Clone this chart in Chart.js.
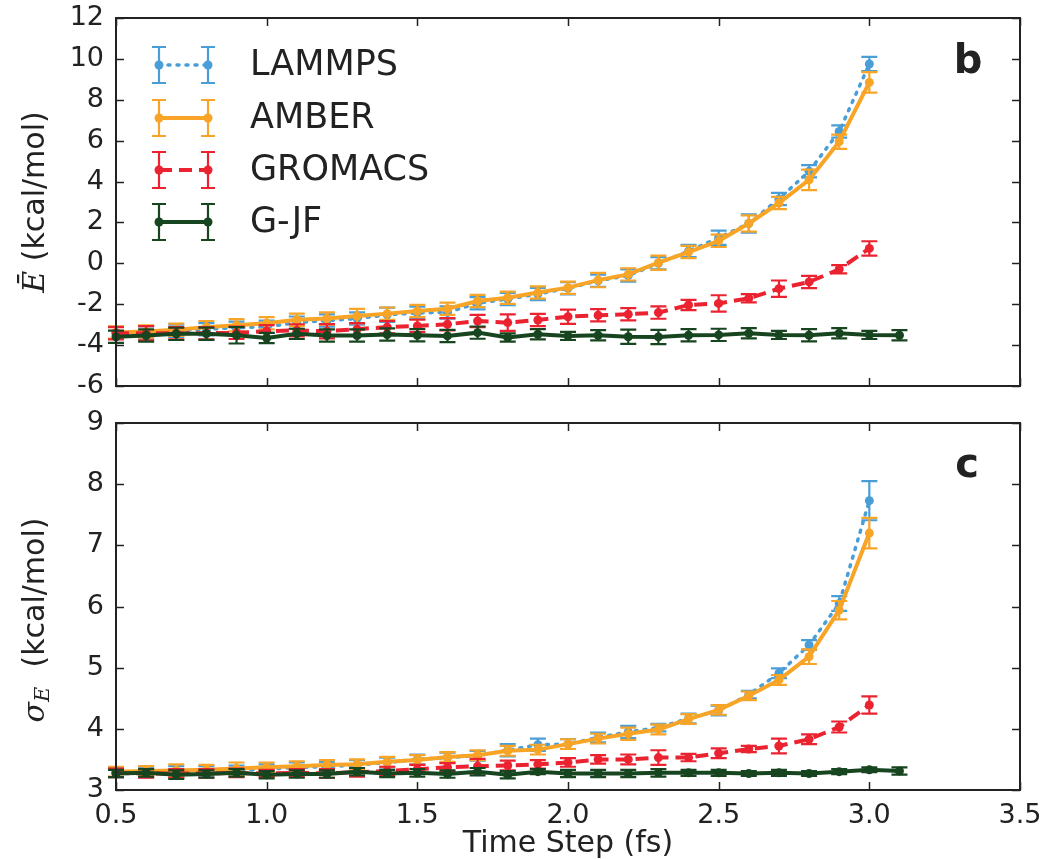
<!DOCTYPE html>
<html>
<head>
<meta charset="utf-8">
<script src="https://cdn.jsdelivr.net/npm/chart.js@4"></script>
<style>
  html, body { margin: 0; padding: 0; background: #fff; }
  #wrap { position: relative; width: 1051px; height: 859px; }
  .box { position: absolute; left: 0; width: 1051px; }
</style>
</head>
<body>
<div id="wrap">
  <div class="box" style="top:0;height:400px"><canvas id="topChart"></canvas></div>
  <div class="box" style="top:400px;height:459px"><canvas id="bottomChart"></canvas></div>
</div>
<script>
// time steps (fs)
const steps = [0.5, 0.6, 0.7, 0.8, 0.9, 1.0, 1.1, 1.2, 1.3, 1.4, 1.5, 1.6, 1.7, 1.8, 1.9,
               2.0, 2.1, 2.2, 2.3, 2.4, 2.5, 2.6, 2.7, 2.8, 2.9, 3.0];
const stepsGjf = steps.concat([3.1]);
const xTicks = [0.5, 1.0, 1.5, 2.0, 2.5, 3.0, 3.5];
const eTicks = [-6, -4, -2, 0, 2, 4, 6, 8, 10, 12];
const sTicks = [3, 4, 5, 6, 7, 8, 9];

// panel b : mean energy
const eLammps = [-3.40, -3.38, -3.30, -3.22, -3.15, -3.10, -2.90, -2.80, -2.70, -2.52, -2.42, -2.40, -1.95,
                 -1.75, -1.50, -1.22, -0.85, -0.60, 0.00, 0.60, 1.25, 1.95, 3.15, 4.50, 6.45, 9.75];
const eLammpsErr = [0.3, 0.3, 0.3, 0.3, 0.3, 0.3, 0.3, 0.3, 0.3, 0.35, 0.3, 0.3, 0.3,
                    0.3, 0.3, 0.3, 0.3, 0.3, 0.3, 0.3, 0.35, 0.45, 0.3, 0.3, 0.3, 0.35];
const eAmber = [-3.38, -3.33, -3.25, -3.12, -3.03, -2.93, -2.76, -2.70, -2.58, -2.46, -2.33, -2.22, -1.84,
                -1.68, -1.43, -1.19, -0.82, -0.54, 0.03, 0.55, 1.10, 1.95, 2.95, 4.08, 5.95, 8.85];
const eAmberErr = [0.3, 0.3, 0.3, 0.3, 0.3, 0.3, 0.3, 0.3, 0.35, 0.3, 0.3, 0.3, 0.3,
                   0.3, 0.3, 0.3, 0.35, 0.3, 0.35, 0.3, 0.3, 0.4, 0.3, 0.5, 0.35, 0.5];
const eGromacs = [-3.42, -3.42, -3.42, -3.42, -3.40, -3.32, -3.28, -3.32, -3.22, -3.12, -3.06, -2.98, -2.82,
                  -2.90, -2.77, -2.61, -2.54, -2.49, -2.41, -2.04, -1.96, -1.71, -1.24, -0.91, -0.29, 0.73];
const eGromacsErr = [0.3, 0.35, 0.3, 0.3, 0.3, 0.3, 0.3, 0.35, 0.3, 0.3, 0.3, 0.3, 0.3,
                     0.4, 0.3, 0.35, 0.3, 0.3, 0.3, 0.25, 0.4, 0.2, 0.4, 0.3, 0.2, 0.35];
const eGjf = [-3.59, -3.53, -3.45, -3.44, -3.52, -3.65, -3.45, -3.53, -3.53, -3.48, -3.52, -3.55, -3.39,
              -3.63, -3.47, -3.55, -3.52, -3.59, -3.60, -3.52, -3.50, -3.42, -3.50, -3.52, -3.42, -3.50, -3.52];
const eGjfErr = [0.3, 0.3, 0.3, 0.3, 0.4, 0.25, 0.25, 0.3, 0.3, 0.3, 0.3, 0.3, 0.3,
                 0.2, 0.25, 0.2, 0.25, 0.35, 0.35, 0.3, 0.3, 0.25, 0.2, 0.3, 0.25, 0.2, 0.25];

// panel c : energy standard deviation
const sLammps = [3.29, 3.29, 3.30, 3.31, 3.32, 3.34, 3.37, 3.38, 3.41, 3.45, 3.50, 3.53, 3.56,
                 3.65, 3.74, 3.75, 3.86, 3.95, 4.02, 4.17, 4.30, 4.56, 4.91, 5.37, 6.05, 7.73];
const sLammpsErr = [0.08, 0.08, 0.09, 0.08, 0.08, 0.08, 0.08, 0.08, 0.08, 0.08, 0.08, 0.08, 0.08,
                    0.1, 0.1, 0.08, 0.08, 0.1, 0.06, 0.08, 0.08, 0.06, 0.08, 0.08, 0.12, 0.32];
const sAmber = [3.30, 3.31, 3.32, 3.33, 3.35, 3.37, 3.39, 3.41, 3.42, 3.46, 3.49, 3.54, 3.57,
                3.64, 3.66, 3.75, 3.84, 3.92, 3.99, 4.16, 4.31, 4.54, 4.80, 5.18, 5.94, 7.20];
const sAmberErr = [0.08, 0.08, 0.1, 0.08, 0.1, 0.08, 0.08, 0.08, 0.08, 0.08, 0.08, 0.08, 0.08,
                   0.08, 0.08, 0.08, 0.08, 0.1, 0.08, 0.08, 0.08, 0.07, 0.08, 0.12, 0.15, 0.25];
const sGromacs = [3.28, 3.27, 3.27, 3.27, 3.28, 3.27, 3.28, 3.27, 3.29, 3.31, 3.34, 3.37, 3.39,
                  3.40, 3.42, 3.45, 3.50, 3.50, 3.53, 3.53, 3.60, 3.67, 3.72, 3.83, 4.03, 4.39];
const sGromacsErr = [0.07, 0.07, 0.07, 0.07, 0.07, 0.06, 0.06, 0.07, 0.07, 0.07, 0.07, 0.07, 0.12,
                     0.08, 0.07, 0.07, 0.07, 0.08, 0.12, 0.06, 0.08, 0.05, 0.12, 0.08, 0.09, 0.14];
const sGjf = [3.27, 3.28, 3.25, 3.26, 3.28, 3.25, 3.26, 3.26, 3.30, 3.27, 3.28, 3.26, 3.30,
              3.25, 3.30, 3.27, 3.27, 3.27, 3.28, 3.28, 3.28, 3.27, 3.28, 3.27, 3.30, 3.33, 3.31];
const sGjfErr = [0.06, 0.06, 0.07, 0.06, 0.06, 0.06, 0.06, 0.06, 0.06, 0.06, 0.06, 0.06, 0.06,
                 0.06, 0.04, 0.06, 0.06, 0.06, 0.06, 0.05, 0.05, 0.04, 0.05, 0.04, 0.04, 0.04, 0.06];

const names = ['LAMMPS', 'AMBER', 'GROMACS', 'G-JF'];
const colors = ['#4a9ed8', '#f7a427', '#eb2330', '#17451f'];

Chart.defaults.font.family = "'DejaVu Sans', sans-serif";
Chart.defaults.color = '#222';
Chart.defaults.animation = false;

const styles = [
  { borderDash: [2, 7], borderCapStyle: 'round', borderWidth: 3.5, order: 4 },
  { borderDash: [], borderCapStyle: 'butt', borderWidth: 4, order: 3 },
  { borderDash: [13, 7], borderCapStyle: 'butt', borderWidth: 4, order: 2 },
  { borderDash: [], borderCapStyle: 'butt', borderWidth: 4, order: 1 },
];

function makeSets(series, errs) {
  return series.map((vals, k) => {
    const xs = k === 3 ? stepsGjf : steps;
    return Object.assign({
      label: names[k],
      data: vals.map((v, i) => ({ x: xs[i], y: v })),
      errors: errs[k],
      borderColor: colors[k],
      backgroundColor: colors[k],
      pointRadius: 4.5,
      pointBorderWidth: 0,
      tension: 0,
      clip: false,
    }, styles[k]);
  });
}

const errorBars = {
  id: 'errorBars',
  afterDatasetDraw(chart, args) {
    const ds = chart.data.datasets[args.index];
    const ys = chart.scales.y;
    const ctx = chart.ctx;
    ctx.save();
    ctx.strokeStyle = ds.borderColor;
    ctx.lineWidth = 2.2;
    args.meta.data.forEach((pt, i) => {
      const v = ds.data[i].y, e = ds.errors[i];
      const y1 = ys.getPixelForValue(v - e);
      const y2 = ys.getPixelForValue(v + e);
      ctx.beginPath();
      ctx.moveTo(pt.x, y1); ctx.lineTo(pt.x, y2);
      ctx.moveTo(pt.x - 8, y1); ctx.lineTo(pt.x + 8, y1);
      ctx.moveTo(pt.x - 8, y2); ctx.lineTo(pt.x + 8, y2);
      ctx.stroke();
    });
    ctx.restore();
  }
};

// matplotlib style frame with inward ticks on all four sides
const frameTicks = {
  id: 'frameTicks',
  afterDraw(chart) {
    const { ctx, chartArea: a, scales } = chart;
    const yTicks = chart.options.plugins.frameTicks.yTicks;
    ctx.save();
    ctx.strokeStyle = '#222';
    ctx.lineWidth = 1.5;
    ctx.beginPath();
    xTicks.forEach(t => {
      const px = Math.round(scales.x.getPixelForValue(t)) + 0.5;
      ctx.moveTo(px, a.top); ctx.lineTo(px, a.top + 8);
      ctx.moveTo(px, a.bottom); ctx.lineTo(px, a.bottom - 8);
    });
    yTicks.forEach(t => {
      const py = Math.round(scales.y.getPixelForValue(t)) + 0.5;
      ctx.moveTo(a.left, py); ctx.lineTo(a.left + 8, py);
      ctx.moveTo(a.right, py); ctx.lineTo(a.right - 8, py);
    });
    ctx.stroke();
    ctx.lineWidth = 2;
    ctx.strokeRect(a.left, a.top, a.width, a.height);
    ctx.restore();
  }
};

// rotated y title with math symbols plus the panel letter
const labels = {
  id: 'labels',
  afterDraw(chart) {
    const o = chart.options.plugins.labels;
    const { ctx } = chart;
    ctx.save();
    ctx.fillStyle = '#222';
    ctx.font = "bold 40px 'DejaVu Sans'";
    ctx.textAlign = 'center';
    ctx.textBaseline = 'middle';
    ctx.fillText(o.letter, o.letterX, o.letterY);

    ctx.translate(36, o.titleY);
    ctx.rotate(-Math.PI / 2);
    ctx.textAlign = 'left';
    ctx.textBaseline = 'middle';
    const parts = o.parts;
    let total = 0;
    parts.forEach(p => { ctx.font = p.font; total += ctx.measureText(p.text).width; });
    let x = -total / 2;
    parts.forEach(p => {
      ctx.font = p.font;
      ctx.fillText(p.text, x, p.dy || 0);
      x += ctx.measureText(p.text).width;
    });
    ctx.restore();
  }
};

const legendBox = {
  id: 'legendBox',
  afterDraw(chart) {
    if (!chart.options.plugins.legendBox.show) return;
    const ctx = chart.ctx;
    const rows = [65, 118, 170, 222];
    ctx.save();
    chart.data.datasets.forEach((ds, k) => {
      const y = rows[k], x1 = 159, x2 = 208;
      ctx.strokeStyle = ds.borderColor;
      ctx.fillStyle = ds.borderColor;
      ctx.lineWidth = ds.borderWidth;
      ctx.lineCap = ds.borderCapStyle;
      ctx.setLineDash(ds.borderDash);
      ctx.beginPath(); ctx.moveTo(x1, y); ctx.lineTo(x2, y); ctx.stroke();
      ctx.setLineDash([]);
      ctx.lineCap = 'butt';
      ctx.lineWidth = 2.2;
      [x1, x2].forEach(x => {
        ctx.beginPath();
        ctx.moveTo(x, y - 18); ctx.lineTo(x, y + 18);
        ctx.moveTo(x - 7, y - 18); ctx.lineTo(x + 7, y - 18);
        ctx.moveTo(x - 7, y + 18); ctx.lineTo(x + 7, y + 18);
        ctx.stroke();
        ctx.beginPath(); ctx.arc(x, y, 4.5, 0, Math.PI * 2); ctx.fill();
      });
      ctx.fillStyle = '#222';
      ctx.font = "35px 'DejaVu Sans'";
      ctx.textBaseline = 'middle';
      ctx.fillText(ds.label, 250, y + 1);
    });
    ctx.restore();
  }
};

function noOverflow(s) {
  s.paddingTop = 0; s.paddingBottom = 0; s.paddingLeft = 0; s.paddingRight = 0;
}

function makeChart(id, sets, yMin, yMax, yStep, yTicks, showX, pad, extra) {
  return new Chart(document.getElementById(id), {
    type: 'line',
    data: { datasets: sets },
    options: {
      responsive: true,
      maintainAspectRatio: false,
      layout: { padding: pad },
      scales: {
        x: {
          type: 'linear', min: 0.5, max: 3.5,
          display: showX,
          grid: { display: false, drawTicks: false },
          border: { display: false },
          ticks: { stepSize: 0.5, padding: 10, font: { size: 27 }, callback: v => v.toFixed(1) },
          title: { display: showX, text: 'Time Step (fs)', font: { size: 30, lineHeight: 1 }, padding: { top: 0, bottom: 0 } },
          afterFit: s => { s.height = showX ? 69 : 0; noOverflow(s); }
        },
        y: {
          min: yMin, max: yMax,
          grid: { display: false, drawTicks: false },
          border: { display: false },
          ticks: { stepSize: yStep, padding: 12, autoSkip: false, font: { size: 27 } },
          afterFit: s => { s.width = 116; noOverflow(s); }
        }
      },
      plugins: Object.assign({ legend: { display: false }, tooltip: { enabled: false },
                               frameTicks: { yTicks: yTicks } }, extra)
    },
    plugins: [errorBars, frameTicks, labels, legendBox]
  });
}

makeChart('topChart',
  makeSets([eLammps, eAmber, eGromacs, eGjf], [eLammpsErr, eAmberErr, eGromacsErr, eGjfErr]),
  -6, 12, 2, eTicks, false, { left: 0, right: 31, top: 18, bottom: 14 },
  {
    legendBox: { show: true },
    labels: {
      letter: 'b', letterX: 968, letterY: 63, titleY: 202,
      parts: [
        { text: 'E\u0304', font: "italic 30px 'DejaVu Serif'" },
        { text: ' (kcal/mol)', font: "30px 'DejaVu Sans'" }
      ]
    }
  });

makeChart('bottomChart',
  makeSets([sLammps, sAmber, sGromacs, sGjf], [sLammpsErr, sAmberErr, sGromacsErr, sGjfErr]),
  3, 9, 1, sTicks, true, { left: 0, right: 31, top: 23, bottom: 0 },
  {
    legendBox: { show: false },
    labels: {
      letter: 'c', letterX: 967, letterY: 67, titleY: 220,
      parts: [
        { text: '\u03c3', font: "italic 30px 'DejaVu Serif'" },
        { text: 'E', font: "italic 21px 'DejaVu Serif'", dy: 8 },
        { text: '  (kcal/mol)', font: "30px 'DejaVu Sans'" }
      ]
    }
  });
</script>
</body>
</html>
